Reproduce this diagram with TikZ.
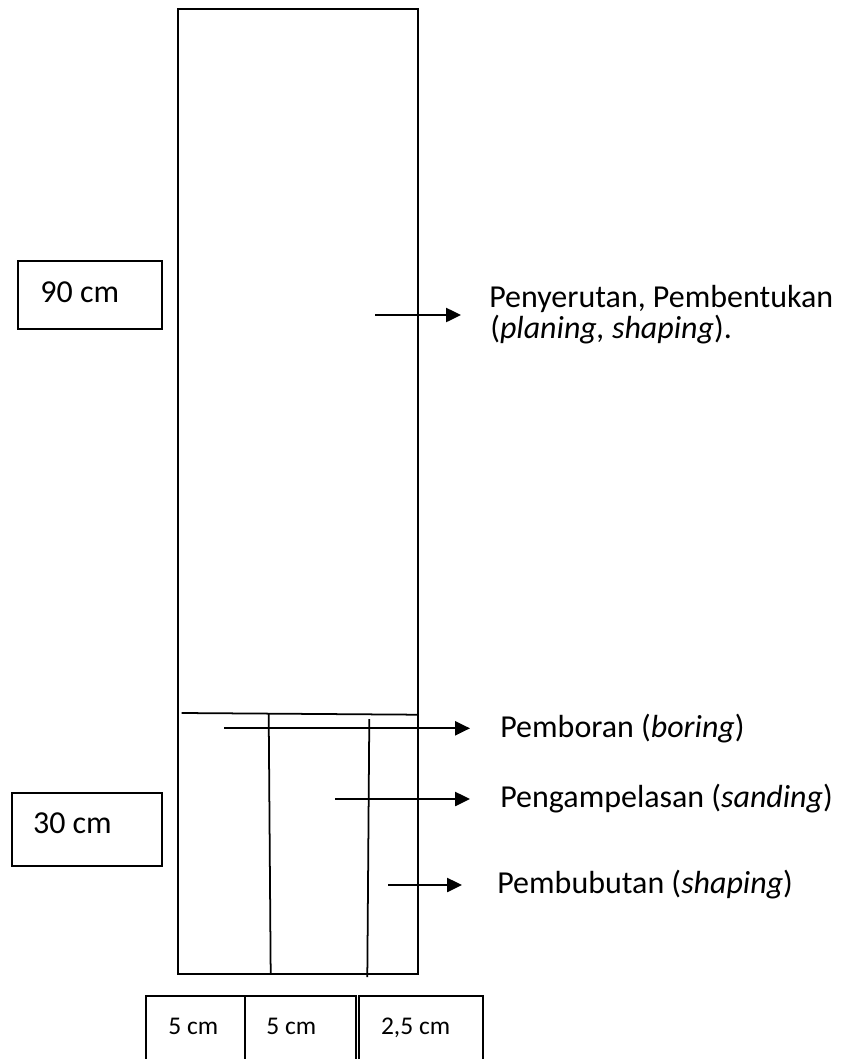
\documentclass[tikz,border=0pt]{standalone}
\usepackage{fontspec}
\setmainfont{Carlito}
\usepackage{tikz}
\usetikzlibrary{arrows.meta}

\begin{document}
\begin{tikzpicture}[x=0.02cm, y=-0.02cm,
    txt/.style={inner sep=0pt, anchor=base west, font=\fontsize{18.2}{22}\selectfont},
    smalltxt/.style={inner sep=0pt, anchor=base west, font=\fontsize{14.5}{18}\selectfont},
    arr/.style={line width=1.2pt, -{Triangle[length=8.5pt, width=8pt]}}]
    \useasboundingbox (0,0) rectangle (842,1059);
    \clip (0,0) rectangle (842,1059);
    \pgfmathsetmacro{\partl}{178.3}
    \pgfmathsetmacro{\partr}{418.3}
    % the piece of wood
    \draw[line width=1pt] (\partl,9.3) rectangle (\partr,974);
    \draw[line width=1pt] (181.7,713) -- (\partr,714.7);
    \draw[line width=1pt] (268.7,714) -- (270.7,974);
    \draw[line width=1pt] (369.3,719) -- (367.3,977);

    % sizes
    \draw[line width=1pt] (18,260.7) rectangle (162,329.3);
    \node[txt] (len90) at (40,302.7) {90 cm};
    \draw[line width=1pt] (12,792.7) rectangle (162,865.7);
    \node[txt] (len30) at (32.7,833) {30 cm};
    \draw[line width=1pt] (146,996) rectangle (356,1075);
    \draw[line width=1pt] (245,996) -- (245,1075);
    \draw[line width=1pt] (359,996) rectangle (483.3,1075);
    \node[smalltxt] (wa) at (168,1034) {5 cm};
    \node[smalltxt] (wb) at (266,1034) {5 cm};
    \node[smalltxt] (wc) at (380.7,1034) {2,5 cm};

    % processes
    \node[txt] (planing) at (489,307) {Penyerutan, Pembentukan};
    \node[txt] (planing2) at (490,338) {(\textit{planing, shaping}).};
    \node[txt] (boring) at (500,737) {Pemboran (\textit{boring})};
    \node[txt] (sanding) at (500,807) {Pengampelasan (\textit{sanding})};
    \node[txt] (turning) at (497,893) {Pembubutan (\textit{shaping})};

    \coordinate (p1) at (375,315);    \coordinate (q1) at (461,315);
    \coordinate (p2) at (224.3,728.3); \coordinate (q2) at (470,728.3);
    \coordinate (p3) at (335,799);    \coordinate (q3) at (470,799);
    \coordinate (p4) at (388,885);    \coordinate (q4) at (462,885);
    \draw[arr] (p1) -- (q1);
    \draw[arr] (p2) -- (q2);
    \draw[arr] (p3) -- (q3);
    \draw[arr] (p4) -- (q4);
\end{tikzpicture}
\end{document}
